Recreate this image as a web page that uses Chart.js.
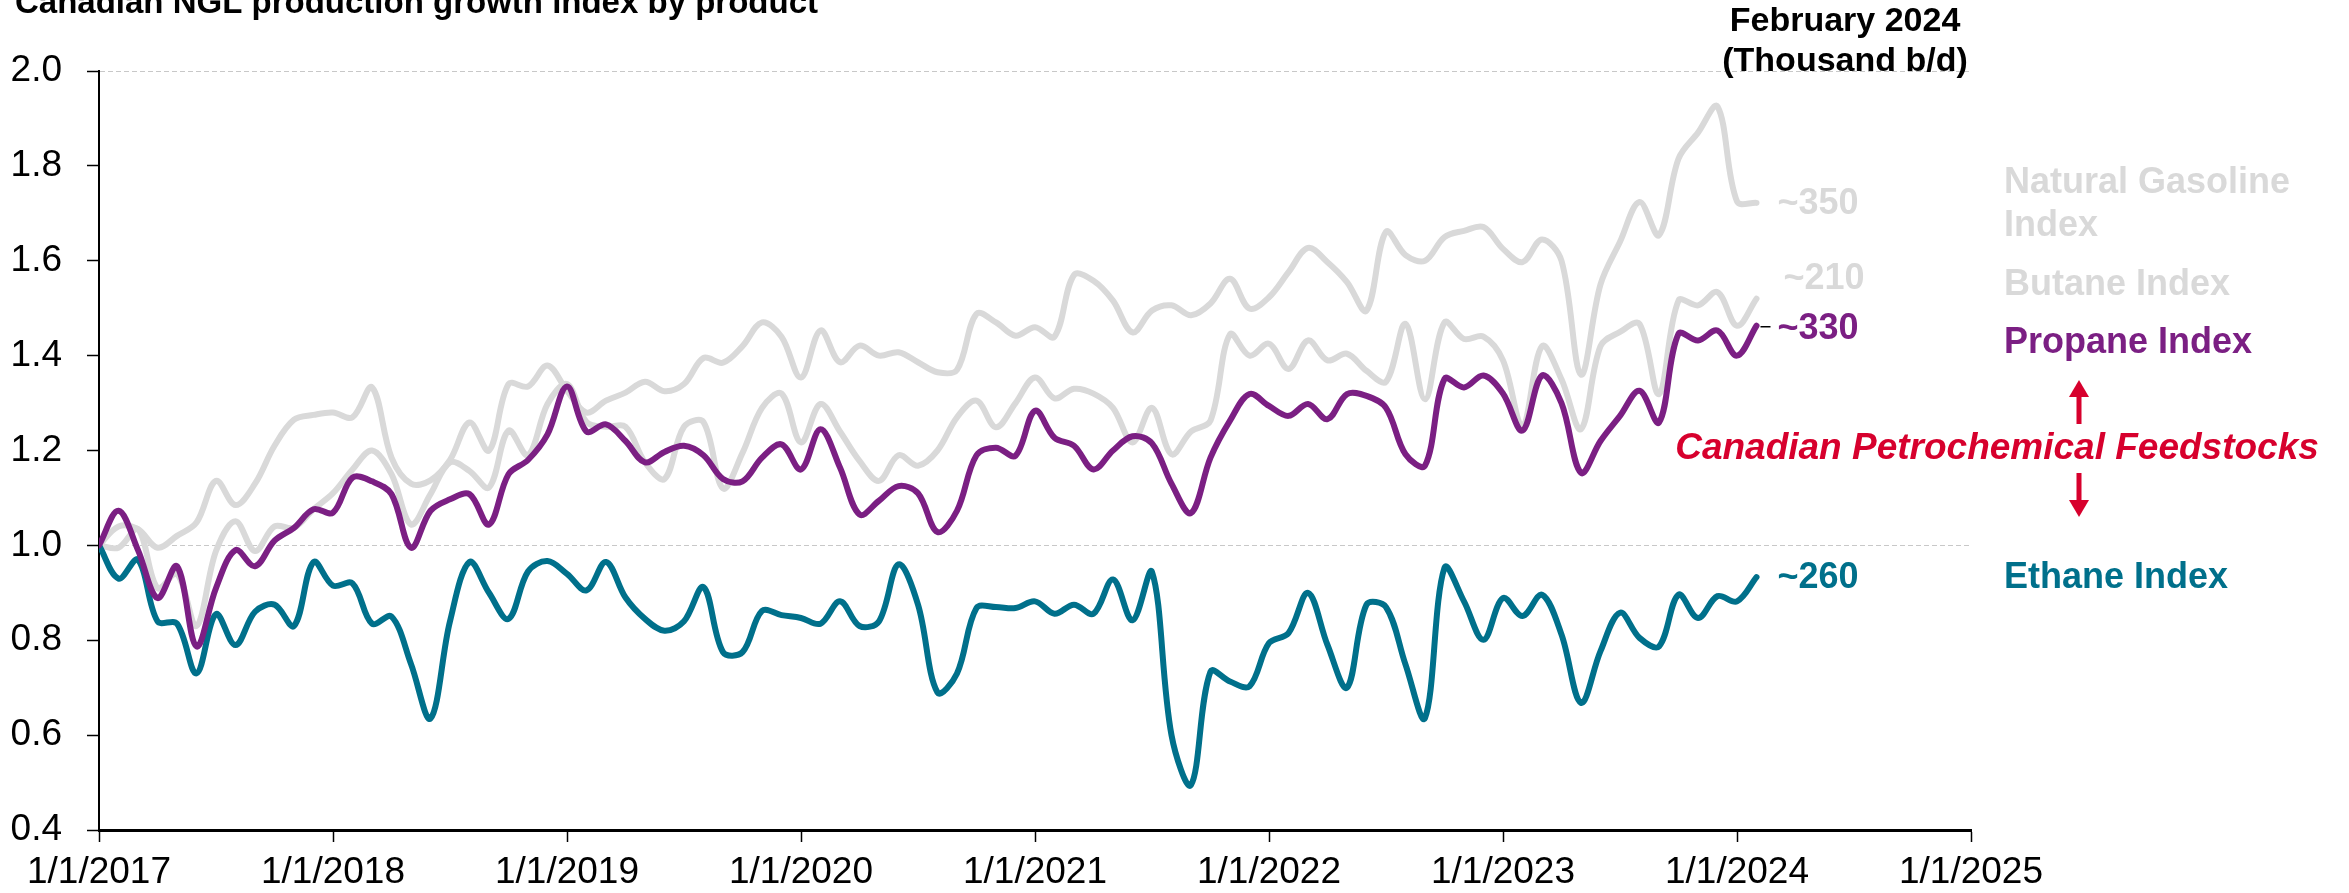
<!DOCTYPE html>
<html>
<head>
<meta charset="utf-8">
<title>Canadian NGL production growth index by product</title>
<style>
  html, body { margin: 0; padding: 0; background: #ffffff; overflow: hidden; }
  canvas { display: block; }
</style>
<script src="https://cdn.jsdelivr.net/npm/chart.js@4.4.1/dist/chart.umd.min.js"></script>
</head>
<body>
<canvas id="chart" width="2349" height="893"></canvas>
<script>
// Monthly index values, Jan 2017 (index 0) through Feb 2024 (index 85); Jan 2017 = 1.0
const yearTicks = ['1/1/2017', '1/1/2018', '1/1/2019', '1/1/2020', '1/1/2021',
                   '1/1/2022', '1/1/2023', '1/1/2024', '1/1/2025'];

const propane = [
  1.0, 1.073, 0.99, 0.889, 0.956, 0.787, 0.91, 0.99, 0.956, 1.01, 1.037, 1.076,
  1.069, 1.143, 1.135, 1.108, 0.995, 1.073, 1.097, 1.108, 1.044, 1.15, 1.18, 1.234,
  1.335, 1.24, 1.255, 1.22, 1.175, 1.197, 1.21, 1.19, 1.14, 1.135, 1.185, 1.213,
  1.16, 1.245, 1.164, 1.065, 1.094, 1.125, 1.11, 1.028, 1.073, 1.19, 1.206, 1.189,
  1.284, 1.227, 1.21, 1.16, 1.2, 1.23, 1.215, 1.13, 1.068, 1.185, 1.263, 1.319,
  1.294, 1.273, 1.298, 1.266, 1.319, 1.315, 1.29, 1.192, 1.168, 1.351, 1.333, 1.358,
  1.32, 1.242, 1.358, 1.30, 1.153, 1.22, 1.273, 1.326, 1.259, 1.446, 1.432, 1.453,
  1.40, 1.463
];

const ethane = [
  1.0, 0.93, 0.97, 0.84, 0.835, 0.73, 0.855, 0.79, 0.86, 0.875, 0.83, 0.965,
  0.915, 0.92, 0.835, 0.85, 0.75, 0.635, 0.84, 0.965, 0.90, 0.845, 0.945, 0.967,
  0.94, 0.905, 0.965, 0.89, 0.845, 0.82, 0.84, 0.912, 0.775, 0.775, 0.862, 0.853,
  0.847, 0.835, 0.882, 0.83, 0.84, 0.96, 0.875, 0.69, 0.73, 0.868, 0.87, 0.868,
  0.882, 0.856, 0.875, 0.856, 0.928, 0.842, 0.944, 0.60, 0.495, 0.734, 0.713, 0.703,
  0.794, 0.815, 0.90, 0.79, 0.70, 0.875, 0.87, 0.749, 0.636, 0.953, 0.882, 0.801,
  0.889, 0.851, 0.896, 0.812, 0.668, 0.777, 0.858, 0.805, 0.787, 0.896, 0.847, 0.893,
  0.882, 0.933
];

const naturalGasoline = [
  1.0, 1.04, 1.034, 0.995, 1.02, 1.048, 1.136, 1.085, 1.13, 1.21, 1.265, 1.275,
  1.28, 1.27, 1.333, 1.185, 1.13, 1.137, 1.18, 1.259, 1.20, 1.34, 1.335, 1.379,
  1.326, 1.28, 1.305, 1.322, 1.345, 1.325, 1.34, 1.395, 1.385, 1.42, 1.47, 1.44,
  1.354, 1.453, 1.386, 1.421, 1.40, 1.407, 1.386, 1.365, 1.37, 1.488, 1.47, 1.442,
  1.46, 1.44, 1.57, 1.558, 1.516, 1.449, 1.495, 1.506, 1.485, 1.51, 1.562, 1.499,
  1.523, 1.576, 1.627, 1.597, 1.555, 1.495, 1.661, 1.612, 1.60, 1.65, 1.663, 1.671,
  1.625, 1.597, 1.645, 1.60, 1.36, 1.55, 1.64, 1.724, 1.654, 1.815, 1.87, 1.925,
  1.725, 1.722
];

const butane = [
  1.0, 0.995, 1.034, 0.91, 0.94, 0.83, 0.988, 1.051, 0.988, 1.04, 1.037, 1.076,
  1.11, 1.16, 1.20, 1.15, 1.044, 1.108, 1.175, 1.157, 1.122, 1.242, 1.19, 1.298,
  1.34, 1.26, 1.25, 1.25, 1.175, 1.14, 1.25, 1.26, 1.12, 1.195, 1.29, 1.32,
  1.217, 1.298, 1.24, 1.178, 1.136, 1.19, 1.168, 1.20, 1.27, 1.305, 1.249, 1.30,
  1.354, 1.31, 1.33, 1.32, 1.29, 1.217, 1.29, 1.192, 1.24, 1.263, 1.445, 1.40,
  1.425, 1.372, 1.432, 1.39, 1.404, 1.368, 1.345, 1.467, 1.308, 1.47, 1.435, 1.44,
  1.39, 1.252, 1.42, 1.35, 1.245, 1.42, 1.45, 1.467, 1.319, 1.516, 1.506, 1.534,
  1.463, 1.52
];

// February 2024 volumes (thousand b/d) shown at the end of each line
const endVolumes = { propane: '~330', ethane: '~260', naturalGasoline: '~350', butane: '~210' };

const COLORS = {
  propane: '#7B1F83',
  ethane: '#00708B',
  grey: '#D9D9D9',
  red: '#D7002D',
  black: '#000000'
};
const FONT = '"Liberation Sans", Arial, Helvetica, sans-serif';

const toPoints = arr => arr.map((v, i) => ({ x: i, y: v }));

const lineStyle = color => ({
  borderColor: color,
  backgroundColor: color,
  borderWidth: 6,
  pointRadius: 0,
  pointHoverRadius: 0,
  tension: 0.35,
  fill: false,
  borderCapStyle: 'round',
  borderJoinStyle: 'round'
});

// Title, header, end-of-line volumes, series names and feedstock bracket
const notesPlugin = {
  id: 'notes',
  afterDraw(chart) {
    const { ctx, scales: { x, y } } = chart;
    ctx.save();

    // Title (runs off the top edge)
    ctx.fillStyle = COLORS.black;
    ctx.textAlign = 'left';
    ctx.textBaseline = 'alphabetic';
    ctx.font = `bold 33px ${FONT}`;
    ctx.fillText('Canadian NGL production growth index by product', 15, 13);

    // Column header
    ctx.textAlign = 'center';
    ctx.textBaseline = 'middle';
    ctx.font = `bold 34px ${FONT}`;
    ctx.fillText('February 2024', 1845, 22);
    ctx.fillText('(Thousand b/d)', 1845, 62);

    // End-of-line volume labels
    const last = propane.length - 1;
    const xEnd = x.getPixelForValue(last);
    ctx.textAlign = 'left';
    ctx.font = `bold 36px ${FONT}`;

    ctx.fillStyle = COLORS.grey;
    ctx.fillText(endVolumes.naturalGasoline, xEnd + 21, y.getPixelForValue(naturalGasoline[last]) + 1);
    ctx.fillText(endVolumes.butane, xEnd + 27, y.getPixelForValue(butane[last]) - 20);

    const yProp = y.getPixelForValue(propane[last]);
    ctx.strokeStyle = COLORS.black;
    ctx.lineWidth = 1.5;
    ctx.beginPath();
    ctx.moveTo(xEnd + 4, yProp + 1);
    ctx.lineTo(xEnd + 14, yProp + 1);
    ctx.stroke();
    ctx.fillStyle = COLORS.propane;
    ctx.fillText(endVolumes.propane, xEnd + 21, yProp + 3);

    ctx.fillStyle = COLORS.ethane;
    ctx.fillText(endVolumes.ethane, xEnd + 21, y.getPixelForValue(ethane[last]) + 1);

    // Series names
    const nameX = 2004;
    ctx.fillStyle = COLORS.grey;
    ctx.fillText('Natural Gasoline', nameX, 183);
    ctx.fillText('Index', nameX, 226);
    ctx.fillText('Butane Index', nameX, 285);
    ctx.fillStyle = COLORS.propane;
    ctx.fillText('Propane Index', nameX, 343);
    ctx.fillStyle = COLORS.ethane;
    ctx.fillText('Ethane Index', nameX, 578);

    // Feedstock bracket: label with arrows up and down
    ctx.fillStyle = COLORS.red;
    ctx.textAlign = 'center';
    ctx.font = `italic bold 37px ${FONT}`;
    ctx.fillText('Canadian Petrochemical Feedstocks', 1997, 449);

    const arrow = (ax, tipY, tailY) => {
      const dir = tailY > tipY ? 1 : -1;
      const headLen = 17;
      ctx.fillRect(ax - 2.5, Math.min(tailY, tipY + dir * headLen), 5, Math.abs(tailY - (tipY + dir * headLen)));
      ctx.beginPath();
      ctx.moveTo(ax, tipY);
      ctx.lineTo(ax - 10, tipY + dir * headLen);
      ctx.lineTo(ax + 10, tipY + dir * headLen);
      ctx.closePath();
      ctx.fill();
    };
    arrow(2079, 380, 424);
    arrow(2079, 517, 473);

    ctx.restore();
  }
};

const chart = new Chart(document.getElementById('chart'), {
  type: 'line',
  data: {
    datasets: [
      { label: 'Propane Index', data: toPoints(propane), ...lineStyle(COLORS.propane) },
      { label: 'Ethane Index', data: toPoints(ethane), ...lineStyle(COLORS.ethane) },
      { label: 'Natural Gasoline Index', data: toPoints(naturalGasoline), ...lineStyle(COLORS.grey) },
      { label: 'Butane Index', data: toPoints(butane), ...lineStyle(COLORS.grey) }
    ]
  },
  options: {
    responsive: false,
    animation: false,
    devicePixelRatio: 1,
    layout: { padding: { left: 0, top: 71, right: 378, bottom: 0 } },
    plugins: {
      legend: { display: false },
      tooltip: { enabled: false },
      title: { display: false }
    },
    scales: {
      x: {
        type: 'linear',
        min: 0,
        max: 96,
        afterFit: s => { s.height = 63; },
        afterBuildTicks: s => { s.ticks = yearTicks.map((_, i) => ({ value: i * 12 })); },
        ticks: {
          autoSkip: false,
          maxRotation: 0,
          padding: 9,
          color: COLORS.black,
          font: { family: FONT, size: 37 },
          callback: v => yearTicks[Math.round(v / 12)]
        },
        grid: {
          drawOnChartArea: false,
          drawTicks: true,
          tickLength: 12,
          tickColor: COLORS.black,
          tickWidth: 1.5
        },
        border: { display: true, color: COLORS.black, width: 3 }
      },
      y: {
        type: 'linear',
        min: 0.4,
        max: 2.0,
        afterFit: s => { s.width = 99; },
        ticks: {
          stepSize: 0.2,
          padding: 25,
          color: COLORS.black,
          font: { family: FONT, size: 37 },
          callback: v => Number(v).toFixed(1)
        },
        grid: {
          drawTicks: true,
          tickLength: 12,
          tickColor: COLORS.black,
          tickWidth: 1.5,
          lineWidth: 1,
          color: ctx => {
            const v = ctx.tick ? ctx.tick.value : null;
            return (v !== null && (Math.abs(v - 1) < 1e-6 || Math.abs(v - 2) < 1e-6)) ? '#C8C8C8' : 'rgba(0,0,0,0)';
          }
        },
        border: { display: true, color: COLORS.black, width: 2, dash: [5, 3] }
      }
    }
  },
  plugins: [notesPlugin]
});
</script>
</body>
</html>
